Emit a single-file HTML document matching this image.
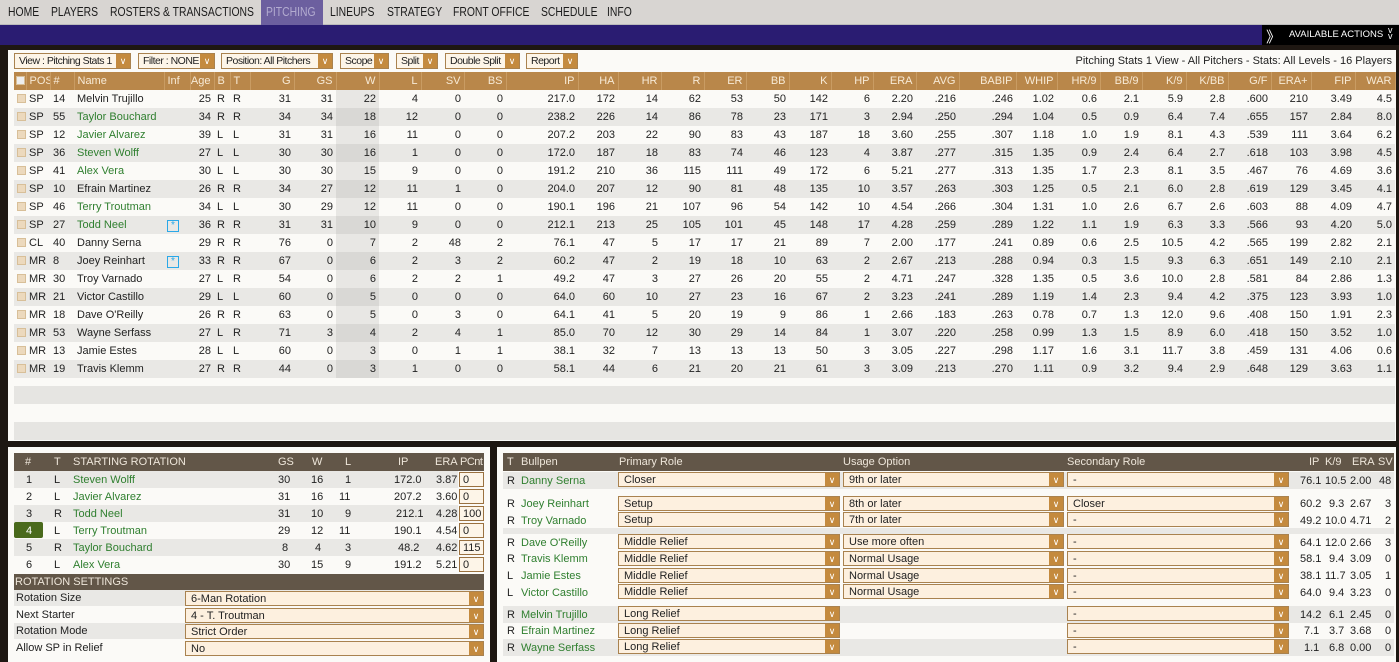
<!DOCTYPE html>
<html><head><meta charset="utf-8">
<style>
*{box-sizing:border-box;margin:0;padding:0}
body{width:1399px;height:662px;overflow:hidden;background:#1e1712;font-family:"Liberation Sans",sans-serif;font-size:11px;color:#222;position:relative}
.abs{position:absolute}
#nav{left:0;top:0;width:1399px;height:25px;background:#d8d5d2;border-bottom:1px solid #bbb}
#nav span{position:absolute;top:5px;font-size:12.5px;color:#1c1c1c;transform:scaleX(.83);transform-origin:0 0;white-space:nowrap}
#band{left:0;top:25px;width:1262px;height:20px;background:#2a1c72}
#aa{left:1262px;top:25px;width:137px;height:20px;background:#000;color:#fff;font-size:10px}
#main{left:8px;top:50px;width:1388px;height:391px;background:#fbfaf7}
.dd{position:absolute;top:53px;height:16px;border:1px solid #a9824f;background:#fdf5e8;font-size:10.5px;padding:1px 0 0 4px;color:#222;white-space:nowrap;overflow:hidden;letter-spacing:-0.5px}
.dd i,.sel i{position:absolute;right:0;top:0;width:14px;height:100%;background:#c48a3e;color:#fff;font-style:normal;font-size:9px;text-align:center;line-height:14px;letter-spacing:0}
table{border-collapse:collapse;table-layout:fixed}
#t{position:absolute;left:14px;top:72px;width:1381px}
#t th{background:#b9874a;color:#f7ead6;font-weight:normal;height:18px;text-align:right;padding-right:3px;border-right:1px solid #c99c63;white-space:nowrap;overflow:hidden}
#t td{height:18px;text-align:right;padding-right:3px;white-space:nowrap;overflow:hidden}
#t tr:nth-child(odd) td{background:#e9e8e5}
#t tr:nth-child(odd) td.w{background:#d9d8d5}
#t tr:nth-child(even) td.w{background:#e8e7e4}
#t td.l,#t th.l{text-align:left;padding-left:3px}
.g{color:#2f7f2f}
.cb{display:inline-block;width:9px;height:9px;background:#ecd9bd;border:1px solid #d8bf98;vertical-align:-1px}
.sn{display:inline-block;width:12px;height:12px;border:1px solid #2aa8e8;color:#2aa8e8;font-size:10px;line-height:10px;text-align:center}
.panel{background:#fbfaf7}
.hd{position:absolute;background:#625648;color:#eee6da;height:18px;font-size:11px}
.hd span,.r span{position:absolute;top:3px;white-space:nowrap}
.r{position:absolute;height:17px}
.sel{position:absolute;height:15px;border:1px solid #a9824f;background:#fdf0df;padding:1px 0 0 5px;font-size:11px;top:1px}
.pc{position:absolute;top:1px;width:25px;height:15px;border:1px solid #9a7140;background:#fdf5e8;padding:1px 0 0 3px}
</style></head><body>
<div id="nav" class="abs">
<div class="abs" style="left:261px;top:0;width:62px;height:25px;background:#6c5f9f"></div>
<span style="left:8px">HOME</span><span style="left:51px">PLAYERS</span><span style="left:110px">ROSTERS &amp; TRANSACTIONS</span><span style="left:266px;color:#b3acd0">PITCHING</span><span style="left:330px">LINEUPS</span><span style="left:387px">STRATEGY</span><span style="left:453px">FRONT OFFICE</span><span style="left:541px">SCHEDULE</span><span style="left:607px">INFO</span>
</div>
<div id="band" class="abs"></div>
<div id="aa" class="abs"><span class="abs" style="left:4px;top:1px;font-size:15px">》</span><span class="abs" style="left:27px;top:4px;font-size:9.5px">AVAILABLE ACTIONS</span><span class="abs" style="left:126px;top:2px;font-size:9px;line-height:6px">v<br>v</span></div>
<div id="main" class="abs"></div>
<div class="dd" style="left:14px;width:117px">View : Pitching Stats 1<i>∨</i></div>
<div class="dd" style="left:138px;width:77px">Filter : NONE<i>∨</i></div>
<div class="dd" style="left:221px;width:112px">Position: All Pitchers<i>∨</i></div>
<div class="dd" style="left:340px;width:49px">Scope<i>∨</i></div>
<div class="dd" style="left:396px;width:42px">Split<i>∨</i></div>
<div class="dd" style="left:445px;width:75px">Double Split<i>∨</i></div>
<div class="dd" style="left:526px;width:52px">Report<i>∨</i></div>
<div class="abs" style="right:7px;top:55px;font-size:11px">Pitching Stats 1 View - All Pitchers - Stats: All Levels - 16 Players</div>
<table id="t">
<colgroup><col style="width:12px"><col style="width:24px"><col style="width:24px"><col style="width:90px"><col style="width:26px"><col style="width:24px"><col style="width:16px"><col style="width:20px"><col style="width:44px"><col style="width:42px"><col style="width:43px"><col style="width:42px"><col style="width:43px"><col style="width:42px"><col style="width:72px"><col style="width:40px"><col style="width:43px"><col style="width:43px"><col style="width:42px"><col style="width:43px"><col style="width:42px"><col style="width:42px"><col style="width:43px"><col style="width:43px"><col style="width:57px"><col style="width:41px"><col style="width:43px"><col style="width:42px"><col style="width:44px"><col style="width:42px"><col style="width:43px"><col style="width:40px"><col style="width:44px"><col style="width:40px"></colgroup>
<tr><th class="l" style="padding-left:2px"><span class="cb" style="background:#eee"></span></th><th class="l">POS</th><th class="l">#</th><th class="l">Name</th><th class="l">Inf</th><th>Age</th><th class="l">B</th><th class="l">T</th><th>G</th><th>GS</th><th>W</th><th>L</th><th>SV</th><th>BS</th><th>IP</th><th>HA</th><th>HR</th><th>R</th><th>ER</th><th>BB</th><th>K</th><th>HP</th><th>ERA</th><th>AVG</th><th>BABIP</th><th>WHIP</th><th>HR/9</th><th>BB/9</th><th>K/9</th><th>K/BB</th><th>G/F</th><th>ERA+</th><th>FIP</th><th>WAR</th></tr>
<tr><td class="l"><span class="cb"></span></td><td class="l">SP</td><td class="l">14</td><td class="l">Melvin Trujillo</td><td></td><td>25</td><td class="l">R</td><td class="l">R</td><td>31</td><td>31</td><td class="w">22</td><td>4</td><td>0</td><td>0</td><td>217.0</td><td>172</td><td>14</td><td>62</td><td>53</td><td>50</td><td>142</td><td>6</td><td>2.20</td><td>.216</td><td>.246</td><td>1.02</td><td>0.6</td><td>2.1</td><td>5.9</td><td>2.8</td><td>.600</td><td>210</td><td>3.49</td><td>4.5</td></tr>
<tr><td class="l"><span class="cb"></span></td><td class="l">SP</td><td class="l">55</td><td class="l g">Taylor Bouchard</td><td></td><td>34</td><td class="l">R</td><td class="l">R</td><td>34</td><td>34</td><td class="w">18</td><td>12</td><td>0</td><td>0</td><td>238.2</td><td>226</td><td>14</td><td>86</td><td>78</td><td>23</td><td>171</td><td>3</td><td>2.94</td><td>.250</td><td>.294</td><td>1.04</td><td>0.5</td><td>0.9</td><td>6.4</td><td>7.4</td><td>.655</td><td>157</td><td>2.84</td><td>8.0</td></tr>
<tr><td class="l"><span class="cb"></span></td><td class="l">SP</td><td class="l">12</td><td class="l g">Javier Alvarez</td><td></td><td>39</td><td class="l">L</td><td class="l">L</td><td>31</td><td>31</td><td class="w">16</td><td>11</td><td>0</td><td>0</td><td>207.2</td><td>203</td><td>22</td><td>90</td><td>83</td><td>43</td><td>187</td><td>18</td><td>3.60</td><td>.255</td><td>.307</td><td>1.18</td><td>1.0</td><td>1.9</td><td>8.1</td><td>4.3</td><td>.539</td><td>111</td><td>3.64</td><td>6.2</td></tr>
<tr><td class="l"><span class="cb"></span></td><td class="l">SP</td><td class="l">36</td><td class="l g">Steven Wolff</td><td></td><td>27</td><td class="l">L</td><td class="l">L</td><td>30</td><td>30</td><td class="w">16</td><td>1</td><td>0</td><td>0</td><td>172.0</td><td>187</td><td>18</td><td>83</td><td>74</td><td>46</td><td>123</td><td>4</td><td>3.87</td><td>.277</td><td>.315</td><td>1.35</td><td>0.9</td><td>2.4</td><td>6.4</td><td>2.7</td><td>.618</td><td>103</td><td>3.98</td><td>4.5</td></tr>
<tr><td class="l"><span class="cb"></span></td><td class="l">SP</td><td class="l">41</td><td class="l g">Alex Vera</td><td></td><td>30</td><td class="l">L</td><td class="l">L</td><td>30</td><td>30</td><td class="w">15</td><td>9</td><td>0</td><td>0</td><td>191.2</td><td>210</td><td>36</td><td>115</td><td>111</td><td>49</td><td>172</td><td>6</td><td>5.21</td><td>.277</td><td>.313</td><td>1.35</td><td>1.7</td><td>2.3</td><td>8.1</td><td>3.5</td><td>.467</td><td>76</td><td>4.69</td><td>3.6</td></tr>
<tr><td class="l"><span class="cb"></span></td><td class="l">SP</td><td class="l">10</td><td class="l">Efrain Martinez</td><td></td><td>26</td><td class="l">R</td><td class="l">R</td><td>34</td><td>27</td><td class="w">12</td><td>11</td><td>1</td><td>0</td><td>204.0</td><td>207</td><td>12</td><td>90</td><td>81</td><td>48</td><td>135</td><td>10</td><td>3.57</td><td>.263</td><td>.303</td><td>1.25</td><td>0.5</td><td>2.1</td><td>6.0</td><td>2.8</td><td>.619</td><td>129</td><td>3.45</td><td>4.1</td></tr>
<tr><td class="l"><span class="cb"></span></td><td class="l">SP</td><td class="l">46</td><td class="l g">Terry Troutman</td><td></td><td>34</td><td class="l">L</td><td class="l">L</td><td>30</td><td>29</td><td class="w">12</td><td>11</td><td>0</td><td>0</td><td>190.1</td><td>196</td><td>21</td><td>107</td><td>96</td><td>54</td><td>142</td><td>10</td><td>4.54</td><td>.266</td><td>.304</td><td>1.31</td><td>1.0</td><td>2.6</td><td>6.7</td><td>2.6</td><td>.603</td><td>88</td><td>4.09</td><td>4.7</td></tr>
<tr><td class="l"><span class="cb"></span></td><td class="l">SP</td><td class="l">27</td><td class="l g">Todd Neel</td><td class="l"><span class="sn">*</span></td><td>36</td><td class="l">R</td><td class="l">R</td><td>31</td><td>31</td><td class="w">10</td><td>9</td><td>0</td><td>0</td><td>212.1</td><td>213</td><td>25</td><td>105</td><td>101</td><td>45</td><td>148</td><td>17</td><td>4.28</td><td>.259</td><td>.289</td><td>1.22</td><td>1.1</td><td>1.9</td><td>6.3</td><td>3.3</td><td>.566</td><td>93</td><td>4.20</td><td>5.0</td></tr>
<tr><td class="l"><span class="cb"></span></td><td class="l">CL</td><td class="l">40</td><td class="l">Danny Serna</td><td></td><td>29</td><td class="l">R</td><td class="l">R</td><td>76</td><td>0</td><td class="w">7</td><td>2</td><td>48</td><td>2</td><td>76.1</td><td>47</td><td>5</td><td>17</td><td>17</td><td>21</td><td>89</td><td>7</td><td>2.00</td><td>.177</td><td>.241</td><td>0.89</td><td>0.6</td><td>2.5</td><td>10.5</td><td>4.2</td><td>.565</td><td>199</td><td>2.82</td><td>2.1</td></tr>
<tr><td class="l"><span class="cb"></span></td><td class="l">MR</td><td class="l">8</td><td class="l">Joey Reinhart</td><td class="l"><span class="sn">*</span></td><td>33</td><td class="l">R</td><td class="l">R</td><td>67</td><td>0</td><td class="w">6</td><td>2</td><td>3</td><td>2</td><td>60.2</td><td>47</td><td>2</td><td>19</td><td>18</td><td>10</td><td>63</td><td>2</td><td>2.67</td><td>.213</td><td>.288</td><td>0.94</td><td>0.3</td><td>1.5</td><td>9.3</td><td>6.3</td><td>.651</td><td>149</td><td>2.10</td><td>2.1</td></tr>
<tr><td class="l"><span class="cb"></span></td><td class="l">MR</td><td class="l">30</td><td class="l">Troy Varnado</td><td></td><td>27</td><td class="l">L</td><td class="l">R</td><td>54</td><td>0</td><td class="w">6</td><td>2</td><td>2</td><td>1</td><td>49.2</td><td>47</td><td>3</td><td>27</td><td>26</td><td>20</td><td>55</td><td>2</td><td>4.71</td><td>.247</td><td>.328</td><td>1.35</td><td>0.5</td><td>3.6</td><td>10.0</td><td>2.8</td><td>.581</td><td>84</td><td>2.86</td><td>1.3</td></tr>
<tr><td class="l"><span class="cb"></span></td><td class="l">MR</td><td class="l">21</td><td class="l">Victor Castillo</td><td></td><td>29</td><td class="l">L</td><td class="l">L</td><td>60</td><td>0</td><td class="w">5</td><td>0</td><td>0</td><td>0</td><td>64.0</td><td>60</td><td>10</td><td>27</td><td>23</td><td>16</td><td>67</td><td>2</td><td>3.23</td><td>.241</td><td>.289</td><td>1.19</td><td>1.4</td><td>2.3</td><td>9.4</td><td>4.2</td><td>.375</td><td>123</td><td>3.93</td><td>1.0</td></tr>
<tr><td class="l"><span class="cb"></span></td><td class="l">MR</td><td class="l">18</td><td class="l">Dave O'Reilly</td><td></td><td>26</td><td class="l">R</td><td class="l">R</td><td>63</td><td>0</td><td class="w">5</td><td>0</td><td>3</td><td>0</td><td>64.1</td><td>41</td><td>5</td><td>20</td><td>19</td><td>9</td><td>86</td><td>1</td><td>2.66</td><td>.183</td><td>.263</td><td>0.78</td><td>0.7</td><td>1.3</td><td>12.0</td><td>9.6</td><td>.408</td><td>150</td><td>1.91</td><td>2.3</td></tr>
<tr><td class="l"><span class="cb"></span></td><td class="l">MR</td><td class="l">53</td><td class="l">Wayne Serfass</td><td></td><td>27</td><td class="l">L</td><td class="l">R</td><td>71</td><td>3</td><td class="w">4</td><td>2</td><td>4</td><td>1</td><td>85.0</td><td>70</td><td>12</td><td>30</td><td>29</td><td>14</td><td>84</td><td>1</td><td>3.07</td><td>.220</td><td>.258</td><td>0.99</td><td>1.3</td><td>1.5</td><td>8.9</td><td>6.0</td><td>.418</td><td>150</td><td>3.52</td><td>1.0</td></tr>
<tr><td class="l"><span class="cb"></span></td><td class="l">MR</td><td class="l">13</td><td class="l">Jamie Estes</td><td></td><td>28</td><td class="l">L</td><td class="l">L</td><td>60</td><td>0</td><td class="w">3</td><td>0</td><td>1</td><td>1</td><td>38.1</td><td>32</td><td>7</td><td>13</td><td>13</td><td>13</td><td>50</td><td>3</td><td>3.05</td><td>.227</td><td>.298</td><td>1.17</td><td>1.6</td><td>3.1</td><td>11.7</td><td>3.8</td><td>.459</td><td>131</td><td>4.06</td><td>0.6</td></tr>
<tr><td class="l"><span class="cb"></span></td><td class="l">MR</td><td class="l">19</td><td class="l">Travis Klemm</td><td></td><td>27</td><td class="l">R</td><td class="l">R</td><td>44</td><td>0</td><td class="w">3</td><td>1</td><td>0</td><td>0</td><td>58.1</td><td>44</td><td>6</td><td>21</td><td>20</td><td>21</td><td>61</td><td>3</td><td>3.09</td><td>.213</td><td>.270</td><td>1.11</td><td>0.9</td><td>3.2</td><td>9.4</td><td>2.9</td><td>.648</td><td>129</td><td>3.63</td><td>1.1</td></tr>
</table>
<div class="abs" style="left:14px;top:386px;width:1381px;height:18px;background:#e6e5e2"></div>
<div class="abs" style="left:14px;top:422px;width:1381px;height:18px;background:#e6e5e2"></div>

<!-- bottom left -->
<div class="abs panel" style="left:8px;top:447px;width:482px;height:215px"></div>
<div class="hd" style="left:14px;top:453px;width:470px">
<span style="left:11px">#</span><span style="left:40px">T</span><span style="left:59px">STARTING ROTATION</span><span style="left:264px">GS</span><span style="left:298px">W</span><span style="left:331px">L</span><span style="left:384px">IP</span><span style="left:421px">ERA</span><span style="left:446px;letter-spacing:-0.5px">PCnt</span></div>
<div class="abs" style="left:14px;top:471px;width:470px;height:103px">
<div class="r" style="top:0;width:444px;background:#e9e8e5"><span style="left:12px">1</span><span style="left:40px">L</span><span style="left:59px" class="g">Steven Wolff</span><span style="left:264px">30</span><span style="left:297px">16</span><span style="left:331px">1</span><span style="left:380px">172.0</span><span style="left:422px">3.87</span></div><div class="pc" style="left:445px;top:1px">0</div>
<div class="r" style="top:17px;width:444px"><span style="left:12px">2</span><span style="left:40px">L</span><span style="left:59px" class="g">Javier Alvarez</span><span style="left:264px">31</span><span style="left:297px">16</span><span style="left:325px">11</span><span style="left:380px">207.2</span><span style="left:422px">3.60</span></div><div class="pc" style="left:445px;top:18px">0</div>
<div class="r" style="top:34px;width:444px;background:#e9e8e5"><span style="left:12px">3</span><span style="left:40px">R</span><span style="left:59px" class="g">Todd Neel</span><span style="left:264px">31</span><span style="left:297px">10</span><span style="left:331px">9</span><span style="left:382px">212.1</span><span style="left:422px">4.28</span></div><div class="pc" style="left:445px;top:35px">100</div>
<div class="r" style="top:51px;width:444px"><div class="abs" style="left:0;top:0;width:29px;height:16px;background:#4a6a1c;border-radius:2px"></div><span style="left:12px;color:#fff">4</span><span style="left:40px">L</span><span style="left:59px" class="g">Terry Troutman</span><span style="left:264px">29</span><span style="left:297px">12</span><span style="left:325px">11</span><span style="left:380px">190.1</span><span style="left:422px">4.54</span></div><div class="pc" style="left:445px;top:52px">0</div>
<div class="r" style="top:68px;width:444px;background:#e9e8e5"><span style="left:12px">5</span><span style="left:40px">R</span><span style="left:59px" class="g">Taylor Bouchard</span><span style="left:268px">8</span><span style="left:301px">4</span><span style="left:331px">3</span><span style="left:384px">48.2</span><span style="left:422px">4.62</span></div><div class="pc" style="left:445px;top:69px">115</div>
<div class="r" style="top:85px;width:444px"><span style="left:12px">6</span><span style="left:40px">L</span><span style="left:59px" class="g">Alex Vera</span><span style="left:264px">30</span><span style="left:297px">15</span><span style="left:331px">9</span><span style="left:380px">191.2</span><span style="left:422px">5.21</span></div><div class="pc" style="left:445px;top:86px">0</div>
</div>
<div class="hd" style="left:14px;top:574px;width:470px;height:16px"><span style="left:1px;top:2px">ROTATION SETTINGS</span></div>
<div class="abs" style="left:14px;top:590px;width:470px;height:66px">
<div class="r" style="top:0;width:470px;background:#e9e8e5;height:16px"><span style="left:2px;top:2px">Rotation Size</span></div><div class="sel" style="left:171px;top:1px;width:299px">6-Man Rotation<i>∨</i></div>
<div class="r" style="top:16.5px;width:470px;height:16px"><span style="left:2px;top:2px">Next Starter</span></div><div class="sel" style="left:171px;top:17.5px;width:299px">4 - T. Troutman<i>∨</i></div>
<div class="r" style="top:33px;width:470px;background:#e9e8e5;height:16px"><span style="left:2px;top:2px">Rotation Mode</span></div><div class="sel" style="left:171px;top:34px;width:299px">Strict Order<i>∨</i></div>
<div class="r" style="top:49.5px;width:470px;height:16px"><span style="left:2px;top:2px">Allow SP in Relief</span></div><div class="sel" style="left:171px;top:50.5px;width:299px">No<i>∨</i></div>
</div>

<!-- bottom right -->
<div class="abs panel" style="left:497px;top:447px;width:899px;height:215px"></div>
<div class="hd" style="left:503px;top:453px;width:891px">
<span style="left:4px">T</span><span style="left:18px">Bullpen</span><span style="left:116px">Primary Role</span><span style="left:340px">Usage Option</span><span style="left:564px">Secondary Role</span><span style="left:806px">IP</span><span style="left:822px">K/9</span><span style="left:849px">ERA</span><span style="left:875px">SV</span></div>
<div class="abs" style="left:503px;top:471px;width:891px;height:190px">
<div class="r" style="top:1px;width:891px;background:#e9e8e5"><span style="left:4px">R</span><span style="left:18px" class="g">Danny Serna</span><span style="left:797px">76.1</span><span style="left:822px">10.5</span><span style="left:847px">2.00</span><span style="left:876px">48</span></div>
<div class="sel" style="left:115px;top:1px;width:222px">Closer<i>∨</i></div><div class="sel" style="left:340px;top:1px;width:221px">9th or later<i>∨</i></div><div class="sel" style="left:564px;top:1px;width:222px">-<i>∨</i></div>
<div class="r" style="top:24px;width:891px"><span style="left:4px">R</span><span style="left:18px" class="g">Joey Reinhart</span><span style="left:797px">60.2</span><span style="left:826px">9.3</span><span style="left:847px">2.67</span><span style="left:882px">3</span></div>
<div class="sel" style="left:115px;top:25px;width:222px">Setup<i>∨</i></div><div class="sel" style="left:340px;top:25px;width:221px">8th or later<i>∨</i></div><div class="sel" style="left:564px;top:25px;width:222px">Closer<i>∨</i></div>
<div class="r" style="top:41px;width:891px"><span style="left:4px">R</span><span style="left:18px" class="g">Troy Varnado</span><span style="left:797px">49.2</span><span style="left:822px">10.0</span><span style="left:847px">4.71</span><span style="left:882px">2</span></div>
<div class="sel" style="left:115px;top:41px;width:222px">Setup<i>∨</i></div><div class="sel" style="left:340px;top:41px;width:221px">7th or later<i>∨</i></div><div class="sel" style="left:564px;top:41px;width:222px">-<i>∨</i></div>
<div class="r" style="top:57px;width:891px;height:6px;background:#e9e8e5"></div>
<div class="r" style="top:63px;width:891px"><span style="left:4px">R</span><span style="left:18px" class="g">Dave O'Reilly</span><span style="left:797px">64.1</span><span style="left:822px">12.0</span><span style="left:847px">2.66</span><span style="left:882px">3</span></div>
<div class="sel" style="left:115px;top:63px;width:222px">Middle Relief<i>∨</i></div><div class="sel" style="left:340px;top:63px;width:221px">Use more often<i>∨</i></div><div class="sel" style="left:564px;top:63px;width:222px">-<i>∨</i></div>
<div class="r" style="top:79px;width:891px"><span style="left:4px">R</span><span style="left:18px" class="g">Travis Klemm</span><span style="left:797px">58.1</span><span style="left:826px">9.4</span><span style="left:847px">3.09</span><span style="left:882px">0</span></div>
<div class="sel" style="left:115px;top:80px;width:222px">Middle Relief<i>∨</i></div><div class="sel" style="left:340px;top:80px;width:221px">Normal Usage<i>∨</i></div><div class="sel" style="left:564px;top:80px;width:222px">-<i>∨</i></div>
<div class="r" style="top:96px;width:891px"><span style="left:4px">L</span><span style="left:18px" class="g">Jamie Estes</span><span style="left:797px">38.1</span><span style="left:822px">11.7</span><span style="left:847px">3.05</span><span style="left:882px">1</span></div>
<div class="sel" style="left:115px;top:97px;width:222px">Middle Relief<i>∨</i></div><div class="sel" style="left:340px;top:97px;width:221px">Normal Usage<i>∨</i></div><div class="sel" style="left:564px;top:97px;width:222px">-<i>∨</i></div>
<div class="r" style="top:113px;width:891px"><span style="left:4px">L</span><span style="left:18px" class="g">Victor Castillo</span><span style="left:797px">64.0</span><span style="left:826px">9.4</span><span style="left:847px">3.23</span><span style="left:882px">0</span></div>
<div class="sel" style="left:115px;top:113px;width:222px">Middle Relief<i>∨</i></div><div class="sel" style="left:340px;top:113px;width:221px">Normal Usage<i>∨</i></div><div class="sel" style="left:564px;top:113px;width:222px">-<i>∨</i></div>
<div class="r" style="top:135px;width:891px;background:#e9e8e5"><span style="left:4px">R</span><span style="left:18px" class="g">Melvin Trujillo</span><span style="left:797px">14.2</span><span style="left:826px">6.1</span><span style="left:847px">2.45</span><span style="left:882px">0</span></div>
<div class="sel" style="left:115px;top:135px;width:222px">Long Relief<i>∨</i></div><div class="sel" style="left:564px;top:135px;width:222px">-<i>∨</i></div>
<div class="r" style="top:151px;width:891px"><span style="left:4px">R</span><span style="left:18px" class="g">Efrain Martinez</span><span style="left:801px">7.1</span><span style="left:826px">3.7</span><span style="left:847px">3.68</span><span style="left:882px">0</span></div>
<div class="sel" style="left:115px;top:152px;width:222px">Long Relief<i>∨</i></div><div class="sel" style="left:564px;top:152px;width:222px">-<i>∨</i></div>
<div class="r" style="top:168px;width:891px;background:#e9e8e5"><span style="left:4px">R</span><span style="left:18px" class="g">Wayne Serfass</span><span style="left:801px">1.1</span><span style="left:826px">6.8</span><span style="left:847px">0.00</span><span style="left:882px">0</span></div>
<div class="sel" style="left:115px;top:168px;width:222px">Long Relief<i>∨</i></div><div class="sel" style="left:564px;top:168px;width:222px">-<i>∨</i></div>
</div>
</body></html>
